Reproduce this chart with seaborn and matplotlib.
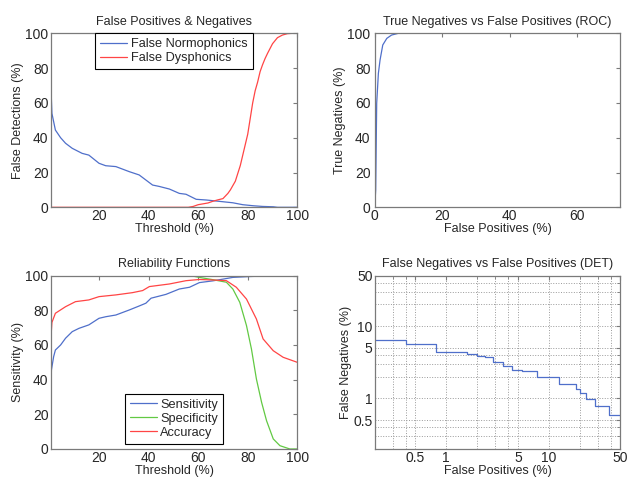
"""
Four-panel detector evaluation figure: error curves, ROC, reliability, DET.
"""

import matplotlib
matplotlib.use("Agg")
import matplotlib.pyplot as plt
import seaborn as sns
import pandas as pd

# --- data ------------------------------------------------------------------
# False positives & negatives vs threshold
thr_fn = [0.5, 1, 2.4, 4.5, 6.5, 9.2, 13.2, 15.9, 20, 22.7, 26.8, 32.2, 36.2,
          38.9, 41.6, 44.3, 48.4, 52.4, 55.1, 59.2, 63.3, 68.7, 74, 78, 82.2,
          86, 90.3, 92, 100]
false_normo = [73, 54, 44.4, 40, 36.8, 33.9, 31, 30, 25.3, 23.9, 23.4, 20.5,
               18.6, 15.7, 12.8, 12, 10.5, 8, 7.5, 4.6, 4.2, 3.4, 2.6, 1.5,
               0.9, 0.5, 0.3, 0, 0]
thr_fd = [0.5, 56, 58, 60, 62, 64, 66, 68, 70, 71, 72, 73, 75, 77, 79, 80, 81,
          82, 83, 84, 85, 86, 87, 88, 90, 92, 94, 96, 98, 100]
false_dys = [0, 0, 0.5, 1.5, 2, 2.5, 3.5, 4.3, 5, 6.5, 8, 10, 15, 24, 36, 42,
             51, 60, 67, 72, 78, 82, 85.5, 88.5, 94, 97.5, 99, 99.8, 100, 100]

# ROC
roc_fp = [0, 0.1, 0.3, 0.6, 1.1, 1.6, 2.4, 3.6, 5, 7, 100]
roc_tn = [0, 3.2, 9.9, 59.8, 77, 84.7, 93.3, 97.1, 99, 100, 100]

# Reliability functions
thr_sens = [0.5, 0.8, 1.7, 2.4, 4.5, 6.5, 9.2, 11.9, 15.9, 20, 22.7, 26.8,
            32.2, 36.2, 38.9, 41, 47, 52.4, 56.5, 60.5, 65.9, 70, 74, 80.8,
            90, 100]
sensitivity = [26.4, 45.6, 53.3, 57.1, 60, 63.9, 67.7, 69.6, 71.6, 75.4, 76.3,
               77.3, 80.2, 82.5, 84.1, 87, 89.2, 92.3, 93.3, 96, 97, 98, 99,
               99.5, 100, 100]
thr_spec = [0.5, 57, 60.5, 65.9, 71.4, 74, 76.8, 79.5, 81.5, 83.5, 85.6, 87.6,
            90.3, 93, 97, 100]
specificity = [100, 100, 99, 97.7, 96.2, 92.3, 84.6, 71.2, 57.7, 40.4, 26.9,
               16.3, 5.8, 1.9, 0, 0]
thr_acc = [0.5, 1, 2.4, 6.5, 10.5, 15.9, 20, 26.8, 33.5, 37.6, 40.3, 48.4,
           55.1, 60.5, 66, 71.4, 75.4, 79.5, 83.5, 86.2, 90.3, 94.3, 100]
accuracy = [62, 73, 78.3, 82.1, 85, 86, 87.9, 88.9, 90.2, 91.4, 93.7, 95.2,
            97.1, 97.8, 97.5, 97.1, 93.3, 86.5, 75, 63.5, 56.7, 52.9, 50]

# DET (step curve)
det_fp = [0.2, 0.4, 0.8, 1.6, 2.0, 2.4, 2.85, 3.56, 4.42, 5.5, 7.6, 12.5,
          18.5, 20.2, 22.8, 28.4, 39, 50]
det_fn = [6.5, 5.6, 4.4, 4.06, 3.9, 3.77, 3.17, 2.79, 2.45, 2.37, 2.0, 1.58,
          1.36, 1.18, 0.97, 0.79, 0.59, 0.59]

BLUE = "#4f6fca"
RED = "#ff4545"
GREEN = "#62c943"
FRAME = "#7a7a7a"

sns.set_style("white")
plt.rcParams["font.family"] = ["Liberation Sans", "DejaVu Sans"]
plt.rcParams["font.size"] = 9
plt.rcParams["xtick.direction"] = "in"
plt.rcParams["ytick.direction"] = "in"
plt.rcParams["xtick.top"] = True
plt.rcParams["ytick.right"] = True
plt.rcParams["xtick.major.size"] = 3
plt.rcParams["ytick.major.size"] = 3
plt.rcParams["xtick.major.pad"] = 1.5
plt.rcParams["ytick.major.pad"] = 1.5


def style_axes(ax, title, xlabel, ylabel):
    ax.set_title(title, fontsize=9, pad=6)
    ax.set_xlabel(xlabel, fontsize=9, labelpad=0)
    ax.set_ylabel(ylabel, fontsize=9, labelpad=1)
    ax.tick_params(labelsize=10, color=FRAME, width=0.8)
    for sp in ax.spines.values():
        sp.set_color(FRAME)
        sp.set_linewidth(0.9)


def matlab_legend(ax, **kw):
    leg = ax.legend(fontsize=9.2, fancybox=False, framealpha=1, edgecolor="black",
                    handlelength=2.1, handletextpad=0.3, borderpad=0.4,
                    labelspacing=0.15, borderaxespad=0, **kw)
    leg.get_frame().set_linewidth(0.8)
    return leg


fig = plt.figure(figsize=(6.28, 4.78), dpi=100)

# --- top left -----------------------------------------------------------
ax1 = fig.add_axes([0.0807, 0.5663, 0.3927, 0.364])
sns.lineplot(x=thr_fn, y=false_normo, ax=ax1, color=BLUE, lw=0.9,
             label="False Normophonics")
sns.lineplot(x=thr_fd, y=false_dys, ax=ax1, color=RED, lw=0.9,
             label="False Dysphonics")
ax1.set_xlim(0.5, 100)
ax1.set_ylim(0, 100)
ax1.set_xticks([20, 40, 60, 80, 100])
ax1.set_yticks([0, 20, 40, 60, 80, 100])
style_axes(ax1, "False Positives & Negatives", "Threshold (%)",
           "False Detections (%)")
matlab_legend(ax1, loc="upper center", bbox_to_anchor=(0.5, 1.0))

# --- top right: ROC -----------------------------------------------------
ax2 = fig.add_axes([0.5966, 0.5663, 0.3914, 0.364])
sns.lineplot(x=roc_fp, y=roc_tn, ax=ax2, color=BLUE, lw=0.9)
ax2.set_xlim(0, 72.8)
ax2.set_ylim(0, 100)
ax2.set_xticks([0, 20, 40, 60])
ax2.set_yticks([0, 20, 40, 60, 80, 100])
style_axes(ax2, "True Negatives vs False Positives (ROC)",
           "False Positives (%)", "True Negatives (%)")
ax2.tick_params(axis="y", pad=3)

# --- bottom left: reliability -------------------------------------------
ax3 = fig.add_axes([0.0807, 0.0607, 0.3927, 0.3626])
sns.lineplot(x=thr_sens, y=sensitivity, ax=ax3, color=BLUE, lw=0.9,
             label="Sensitivity")
sns.lineplot(x=thr_spec, y=specificity, ax=ax3, color=GREEN, lw=0.9,
             label="Specificity")
sns.lineplot(x=thr_acc, y=accuracy, ax=ax3, color=RED, lw=0.9,
             label="Accuracy")
ax3.set_xlim(0.5, 100)
ax3.set_ylim(0, 100)
ax3.set_xticks([20, 40, 60, 80, 100])
ax3.set_yticks([0, 20, 40, 60, 80, 100])
style_axes(ax3, "Reliability Functions", "Threshold (%)", "Sensitivity (%)")
matlab_legend(ax3, loc="lower center", bbox_to_anchor=(0.5, 0.03))

# --- bottom right: DET --------------------------------------------------
ax4 = fig.add_axes([0.5966, 0.0607, 0.3914, 0.3626])
det = pd.DataFrame({"fp": det_fp, "fn": det_fn})
sns.lineplot(data=det, x="fp", y="fn", ax=ax4, color=BLUE, lw=0.9,
             drawstyle="steps-post")
ax4.set_xscale("log")
ax4.set_yscale("log")
ax4.set_xlim(0.2, 50)
ax4.set_ylim(0.2, 50)
major = [0.5, 1, 5, 10, 50]
minor = [0.2, 0.3, 0.4, 2, 3, 4, 20, 30, 40]
ax4.set_xticks(major)
ax4.set_yticks(major)
ax4.set_xticks(minor, minor=True)
ax4.set_yticks(minor, minor=True)
ax4.set_xticklabels(["0.5", "1", "5", "10", "50"])
ax4.set_yticklabels(["0.5", "1", "5", "10", "50"])
ax4.tick_params(which="minor", labelbottom=False, labelleft=False, length=2,
                color=FRAME)
ax4.grid(True, which="both", linestyle=":", color="#9a9a9a", linewidth=0.7)
style_axes(ax4, "False Negatives vs False Positives (DET)",
           "False Positives (%)", "False Negatives (%)")

fig.savefig("out.png", dpi=100)
